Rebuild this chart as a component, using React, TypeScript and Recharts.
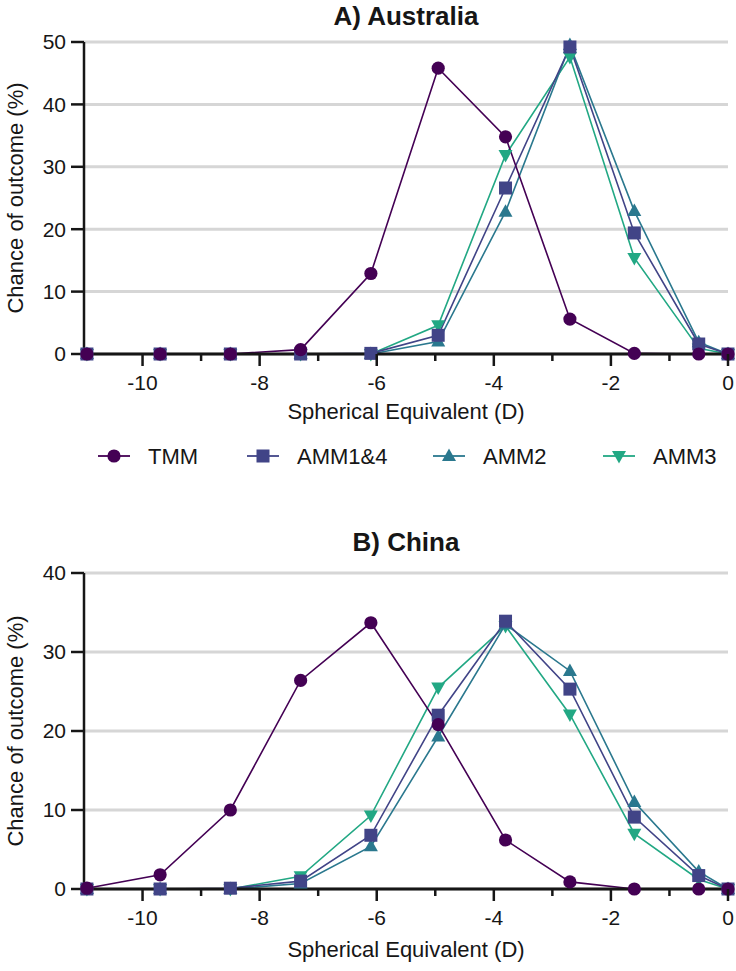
import React from 'react';
import { LineChart, Line, XAxis, YAxis, CartesianGrid } from 'recharts';

const FONT = '"Liberation Sans", Arial, Helvetica, sans-serif';
const INK = '#161616';

// spherical equivalent bin positions (D)
const SE_BINS = [-10.95, -9.7, -8.5, -7.3, -6.1, -4.95, -3.8, -2.7, -1.6, -0.5, 0];

// A) Australia, chance of outcome (%)
const AU_TMM = [0, 0, 0, 0.7, 12.9, 45.8, 34.8, 5.6, 0.1, 0, 0];
const AU_AMM14 = [0, 0, 0, 0, 0.1, 3.0, 26.6, 49.2, 19.4, 1.6, 0];
const AU_AMM2 = [0, 0, 0, 0, 0, 2.0, 22.8, 49.5, 22.9, 1.9, 0];
const AU_AMM3 = [0, 0, 0, 0, 0, 4.6, 31.9, 47.6, 15.4, 0.9, 0];

// B) China
const CN_TMM = [0.1, 1.8, 10.0, 26.4, 33.7, 20.8, 6.2, 0.9, 0, 0, 0];
const CN_AMM14 = [0, 0, 0.1, 1.0, 6.8, 22.0, 33.9, 25.3, 9.1, 1.7, 0];
const CN_AMM2 = [0, 0, 0, 0.7, 5.4, 19.3, 33.5, 27.6, 11.0, 2.2, 0];
const CN_AMM3 = [0, 0, 0, 1.6, 9.3, 25.5, 33.3, 22.1, 7.0, 1.2, 0];

const X_TICKS = [-10, -9, -8, -7, -6, -5, -4, -3, -2, -1, 0];
const AU_Y_TICKS = [0, 10, 20, 30, 40, 50];
const CN_Y_TICKS = [0, 10, 20, 30, 40];

const SERIES = [
  { key: 'amm3', name: 'AMM3', color: '#22a884', shape: 'down' },
  { key: 'amm2', name: 'AMM2', color: '#2a788e', shape: 'up' },
  { key: 'amm14', name: 'AMM1&4', color: '#414487', shape: 'square' },
  { key: 'tmm', name: 'TMM', color: '#440154', shape: 'circle' },
];
const LEGEND_ORDER = ['tmm', 'amm14', 'amm2', 'amm3'];
const LEGEND_X = [114, 263, 449, 619];

function buildRows(tmm: number[], amm14: number[], amm2: number[], amm3: number[]) {
  return SE_BINS.map((x, i) => ({ x, tmm: tmm[i], amm14: amm14[i], amm2: amm2[i], amm3: amm3[i] }));
}

const auRows = buildRows(AU_TMM, AU_AMM14, AU_AMM2, AU_AMM3);
const cnRows = buildRows(CN_TMM, CN_AMM14, CN_AMM2, CN_AMM3);

const Marker = ({ shape, cx, cy, color }: any) => {
  if (shape === 'circle') return <circle cx={cx} cy={cy} r={6.6} fill={color} />;
  if (shape === 'square') return <rect x={cx - 6.5} y={cy - 6.5} width={13} height={13} fill={color} />;
  if (shape === 'up')
    return <polygon points={`${cx},${cy - 7.5} ${cx - 7},${cy + 5} ${cx + 7},${cy + 5}`} fill={color} />;
  return <polygon points={`${cx},${cy + 7.5} ${cx - 7},${cy - 5} ${cx + 7},${cy - 5}`} fill={color} />;
};

const makeDot = (shape: string, color: string) => (props: any) => {
  const { cx, cy, index } = props;
  if (cx == null || cy == null) return <g key={index} />;
  return (
    <g key={index}>
      <Marker shape={shape} cx={cx} cy={cy} color={color} />
    </g>
  );
};

const XTick = (props: any) => {
  const { x, y, payload } = props;
  const major = payload.value % 2 === 0;
  return (
    <g>
      <line x1={x} x2={x} y1={y} y2={y + (major ? 12 : 7)} stroke={INK} strokeWidth={2.5} />
      {major && (
        <text x={x} y={y + 36} textAnchor="middle" fontSize={21} fontFamily={FONT} fill={INK}>
          {payload.value}
        </text>
      )}
    </g>
  );
};

interface PanelProps {
  rows: any[];
  yMax: number;
  yTicks: number[];
  height: number;
  top: number;
}

const Panel = ({ rows, yMax, yTicks, height, top }: PanelProps) => (
  <div style={{ position: 'absolute', left: 0, top }}>
    <LineChart width={736} height={height} data={rows} margin={{ top: 42, right: 8, bottom: 6, left: 0 }}>
      <CartesianGrid vertical={false} stroke="#d6d6d6" strokeWidth={3} />
      <XAxis
        dataKey="x"
        type="number"
        domain={[-11, 0]}
        ticks={X_TICKS}
        interval={0}
        height={40}
        tickSize={0}
        tickMargin={0}
        tickLine={false}
        axisLine={{ stroke: INK, strokeWidth: 3 }}
        tick={<XTick />}
      />
      <YAxis
        type="number"
        domain={[0, yMax]}
        ticks={yTicks}
        interval={0}
        width={84}
        tickSize={13}
        tickMargin={5}
        axisLine={{ stroke: INK, strokeWidth: 2.5 }}
        tickLine={{ stroke: INK, strokeWidth: 2.5 }}
        tick={{ fontSize: 21, fill: INK, fontFamily: FONT }}
      />
      {SERIES.map((s) => (
        <Line
          key={s.key}
          type="linear"
          dataKey={s.key}
          stroke={s.color}
          strokeWidth={1.6}
          dot={makeDot(s.shape, s.color)}
          activeDot={false}
          isAnimationActive={false}
        />
      ))}
    </LineChart>
  </div>
);

const Title = ({ text, y }: { text: string; y: number }) => (
  <div
    style={{
      position: 'absolute', left: 84, width: 644, top: y, textAlign: 'center',
      fontFamily: FONT, fontWeight: 'bold', fontSize: 26, color: INK, lineHeight: '30px',
    }}
  >
    {text}
  </div>
);

const YTitle = ({ cy }: { cy: number }) => (
  <div
    style={{
      position: 'absolute', left: 16 - 150, top: cy - 14, width: 300, height: 28, textAlign: 'center',
      transform: 'rotate(-90deg)', fontFamily: FONT, fontSize: 22, color: INK, lineHeight: '28px',
    }}
  >
    Chance of outcome (%)
  </div>
);

const XTitle = ({ y }: { y: number }) => (
  <div
    style={{
      position: 'absolute', left: 84, width: 644, top: y, textAlign: 'center',
      fontFamily: FONT, fontSize: 22, color: INK, lineHeight: '28px',
    }}
  >
    Spherical Equivalent (D)
  </div>
);

const LegendRow = ({ y }: { y: number }) => (
  <svg width={736} height={34} style={{ position: 'absolute', left: 0, top: y }}>
    {LEGEND_ORDER.map((k, i) => {
      const s = SERIES.find((d) => d.key === k)!;
      const cx = LEGEND_X[i];
      return (
        <g key={k}>
          <line x1={cx - 16} x2={cx + 16} y1={17} y2={17} stroke={s.color} strokeWidth={1.8} />
          <Marker shape={s.shape} cx={cx} cy={17} color={s.color} />
          <text x={cx + 34} y={17} dominantBaseline="central" fontSize={22} fontFamily={FONT} fill={INK}>
            {s.name}
          </text>
        </g>
      );
    })}
  </svg>
);

export default function App() {
  return (
    <div style={{ position: 'absolute', left: 0, top: 0, width: 736, height: 971, background: '#fff', overflow: 'hidden' }}>
      <Title text="A) Australia" y={1} />
      <Panel rows={auRows} yMax={50} yTicks={AU_Y_TICKS} height={400} top={0} />
      <YTitle cy={198} />
      <XTitle y={398} />
      <LegendRow y={439} />

      <Title text="B) China" y={527} />
      <Panel rows={cnRows} yMax={40} yTicks={CN_Y_TICKS} height={404} top={531} />
      <YTitle cy={731} />
      <XTitle y={936} />
    </div>
  );
}
